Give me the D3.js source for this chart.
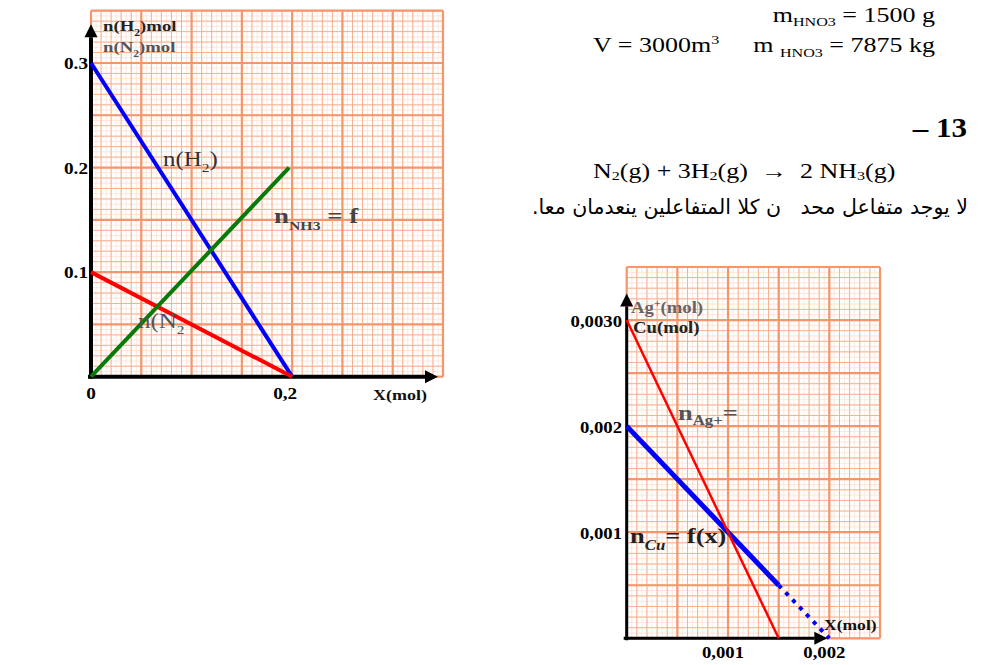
<!DOCTYPE html>
<html>
<head>
<meta charset="utf-8">
<script src="https://cdn.jsdelivr.net/npm/d3@7"></script>
<style>
  body { margin: 0; background: #fff; }
  svg { display: block; }
  text { white-space: pre; }
</style>
</head>
<body>
<svg class="chart"></svg>
<script>
// left graph: n(H2), n(N2), n(NH3) against X (mol)
var h2Points = [[0, 0.3], [0.2, 0]];
var n2Points = [[0, 0.1], [0.2, 0]];
var nh3Points = [[0, 0], [0.197, 0.2]];
var leftYTicks = [0.1, 0.2, 0.3];
var leftYLabels = ["0.1", "0.2", "0.3"];
var leftXTicks = [0, 0.2];
var leftXLabels = ["0", "0,2"];

// right graph: n(Ag+), n(Cu) against X (mol)
var agPoints = [[0, 0.003], [0.0015, 0]];
var cuPoints = [[0, 0.002], [0.0015, 0.0005]];
var cuDotted = [[0.0015, 0.0005], [0.002, 0]];
var rightYTicks = [0.001, 0.002, 0.003];
var rightYLabels = ["0,001", "0,002", "0,0030"];
var rightXTicks = [0.001, 0.002];
var rightXLabels = ["0,001", "0,002"];

var serif = "'Liberation Serif', 'Times New Roman', serif";

var svg = d3.select(".chart")
    .attr("width", 984)
    .attr("height", 665);

// scales, both sheets of graph paper
var xL = d3.scaleLinear().domain([0, 0.35]).range([91, 443]);
var yL = d3.scaleLinear().domain([0, 0.35]).range([376.7, 10.7]);
var xR = d3.scaleLinear().domain([0, 0.0025]).range([626.7, 880]);
var yR = d3.scaleLinear().domain([0, 0.0035]).range([638.3, 267]);

// millimetre paper: faint, minor and major lines
function paper(g, x, y, nx, ny, step) {
    var levels = [
        {n: 10, c: "#fde2d4", w: 0.8},
        {n: 5, c: "#f9b190", w: 1},
        {n: 1, c: "#f7956a", w: 2.2}
    ];
    levels.forEach(function (l) {
        var xs = d3.range(nx * l.n + 1).map(function (i) { return i * step / l.n; });
        var ys = d3.range(ny * l.n + 1).map(function (i) { return i * step / l.n; });
        g.selectAll(null).data(xs).enter().append("line")
            .attr("x1", function (d) { return x(d); })
            .attr("x2", function (d) { return x(d); })
            .attr("y1", y(0)).attr("y2", y(ny * step))
            .attr("stroke", l.c).attr("stroke-width", l.w);
        g.selectAll(null).data(ys).enter().append("line")
            .attr("y1", function (d) { return y(d); })
            .attr("y2", function (d) { return y(d); })
            .attr("x1", x(0)).attr("x2", x(nx * step))
            .attr("stroke", l.c).attr("stroke-width", l.w);
    });
}

// axis with arrow head
function arrowAxes(g, x, y, xTip, yTip, w, head) {
    var x0 = x(0), y0 = y(0);
    g.append("line").attr("x1", x0).attr("x2", x0)
        .attr("y1", y0 + 2).attr("y2", y(yTip) + head)
        .attr("stroke", "#000").attr("stroke-width", w);
    g.append("line").attr("x1", x0 - 3).attr("x2", x(xTip) - head)
        .attr("y1", y0).attr("y2", y0)
        .attr("stroke", "#000").attr("stroke-width", w);
    g.append("path")
        .attr("d", "M" + x0 + "," + y(yTip) + "L" + (x0 - head / 2) + "," + (y(yTip) + head) +
            "L" + (x0 + head / 2) + "," + (y(yTip) + head) + "Z")
        .attr("fill", "#000");
    g.append("path")
        .attr("d", "M" + x(xTip) + "," + y0 + "L" + (x(xTip) - head) + "," + (y0 - head / 2) +
            "L" + (x(xTip) - head) + "," + (y0 + head / 2) + "Z")
        .attr("fill", "#000");
}

// text helper: parts are strings or {t, sub|sup, size, italic}
function label(g, x, y, parts, o) {
    var size = o.size || 16;
    var t = g.append("text")
        .attr("transform", "translate(" + x + "," + y + ") scale(" + (o.sx || 1.2) + ",1)")
        .attr("font-family", o.family || serif)
        .attr("font-size", size)
        .attr("font-weight", o.bold ? "bold" : "normal")
        .attr("fill", o.color || "#000")
        .attr("text-anchor", o.anchor || "start");
    var shift = 0;
    parts.forEach(function (p) {
        if (typeof p === "string") p = {t: p};
        var s = p.sub ? size * (o.subDy || 0.3) : p.sup ? -size * 0.4 : 0;
        var span = t.append("tspan").text(p.t).attr("dy", s - shift);
        if (p.sub || p.sup) span.attr("font-size", p.size || size * 0.62);
        if (p.italic) span.attr("font-style", "italic");
        shift = s;
    });
    return t;
}

var line = function (x, y) {
    return d3.line().x(function (d) { return x(d[0]); }).y(function (d) { return y(d[1]); });
};

// ---------- left graph ----------
var left = svg.append("g");
paper(left, xL, yL, 7, 7, 0.05);
arrowAxes(left, xL, yL, 0.345, 0.337, 4, 13);

var lineL = line(xL, yL);
left.append("path").attr("d", lineL(h2Points)).attr("stroke", "#0000ff").attr("stroke-width", 4).attr("fill", "none");
left.append("path").attr("d", lineL(n2Points)).attr("stroke", "#ff0000").attr("stroke-width", 4).attr("fill", "none");
left.append("path").attr("d", lineL(nh3Points)).attr("stroke", "#087a08").attr("stroke-width", 4).attr("fill", "none");

leftYTicks.forEach(function (v, i) {
    label(left, 88, yL(v) + 6, [leftYLabels[i]], {size: 16, bold: true, anchor: "end", sx: 1.2});
});
leftXTicks.forEach(function (v, i) {
    label(left, xL(v) - (i ? 7 : 0), 399, [leftXLabels[i]], {size: 16, bold: true, anchor: "middle", sx: 1.2});
});
label(left, 373, 400, ["X(mol)"], {size: 15, bold: true, sx: 1.2, color: "#111"});
label(left, 103, 31, ["n(H", {t: "2", sub: true}, ")mol"], {size: 15, bold: true, sx: 1.25, color: "#222"});
label(left, 103, 52, ["n(N", {t: "2", sub: true}, ")mol"], {size: 15, bold: true, sx: 1.25, color: "#555"});
label(left, 163, 166, ["n(H", {t: "2", sub: true}, ")"], {size: 20, sx: 1.25, color: "#333"});
label(left, 138, 328, ["n(N", {t: "2", sub: true}], {size: 20, sx: 1.25, color: "#555"});
label(left, 274, 223, ["n", {t: "NH3", sub: true, size: 13}, " = f"], {size: 22, bold: true, sx: 1.22, color: "#444"});

// ---------- right graph ----------
var right = svg.append("g");
paper(right, xR, yR, 5, 7, 0.0005);
arrowAxes(right, xR, yR, 0.00198, 0.00325, 3, 13);

var lineR = line(xR, yR);
right.append("path").attr("d", lineR(cuPoints)).attr("stroke", "#0000ff").attr("stroke-width", 5).attr("fill", "none");
right.append("path").attr("d", lineR(cuDotted)).attr("stroke", "#0000ff").attr("stroke-width", 4)
    .attr("stroke-dasharray", "4,6").attr("fill", "none");
right.append("path").attr("d", lineR(agPoints)).attr("stroke", "#ff0000").attr("stroke-width", 2.5).attr("fill", "none");

rightYTicks.forEach(function (v, i) {
    label(right, 622, yR(v) + 7, [rightYLabels[i]], {size: 16, bold: true, anchor: "end", sx: 1.17});
});
rightXTicks.forEach(function (v, i) {
    label(right, xR(v) - 5, 658, [rightXLabels[i]], {size: 16, bold: true, anchor: "middle", sx: 1.17});
});
label(right, 824, 630, ["X(mol)"], {size: 15, bold: true, sx: 1.17, color: "#111"});
label(right, 631, 313, ["Ag", {t: "+", sup: true}, "(mol)"], {size: 16, bold: true, sx: 1.17, color: "#666"});
label(right, 633, 333, ["Cu(mol)"], {size: 16, bold: true, sx: 1.17, color: "#222"});
label(right, 678, 420, ["n", {t: "Ag+", sub: true, size: 14}, "="], {size: 22, bold: true, sx: 1.2, color: "#555", subDy: 0.22});
label(right, 630, 543, ["n", {t: "Cu", sub: true, size: 14, italic: true}, "= f(x)"], {size: 22, bold: true, sx: 1.2, color: "#222"});

// ---------- text at top right ----------
var notes = svg.append("g");
label(notes, 935, 22, ["m", {t: "HNO3", sub: true}, " = 1500 g"], {size: 20, sx: 1.3, anchor: "end", subDy: 0.2});
label(notes, 935, 52, ["m ", {t: "HNO3", sub: true}, " = 7875 kg"], {size: 20, sx: 1.3, anchor: "end", subDy: 0.25});
label(notes, 593, 52, ["V = 3000m", {t: "3", sup: true}], {size: 20, sx: 1.3});
label(notes, 967, 137, ["\u2013 13"], {size: 27, bold: true, sx: 1.15, anchor: "end"});
label(notes, 593, 178, ["N", {t: "2", sub: true}, "(g) + 3H", {t: "2", sub: true}, "(g)  \u2192  2 NH",
    {t: "3", sub: true}, "(g)"], {size: 20, sx: 1.3, subDy: 0.12});
notes.append("text")
    .attr("x", 968).attr("y", 214)
    .attr("direction", "rtl")
    .attr("text-anchor", "start")
    .attr("font-family", "'DejaVu Sans', sans-serif")
    .attr("font-size", 20.5)
    .attr("fill", "#000")
    .text("لا يوجد متفاعل محد   ن كلا المتفاعلين ينعدمان معا.");
</script>
</body>
</html>
